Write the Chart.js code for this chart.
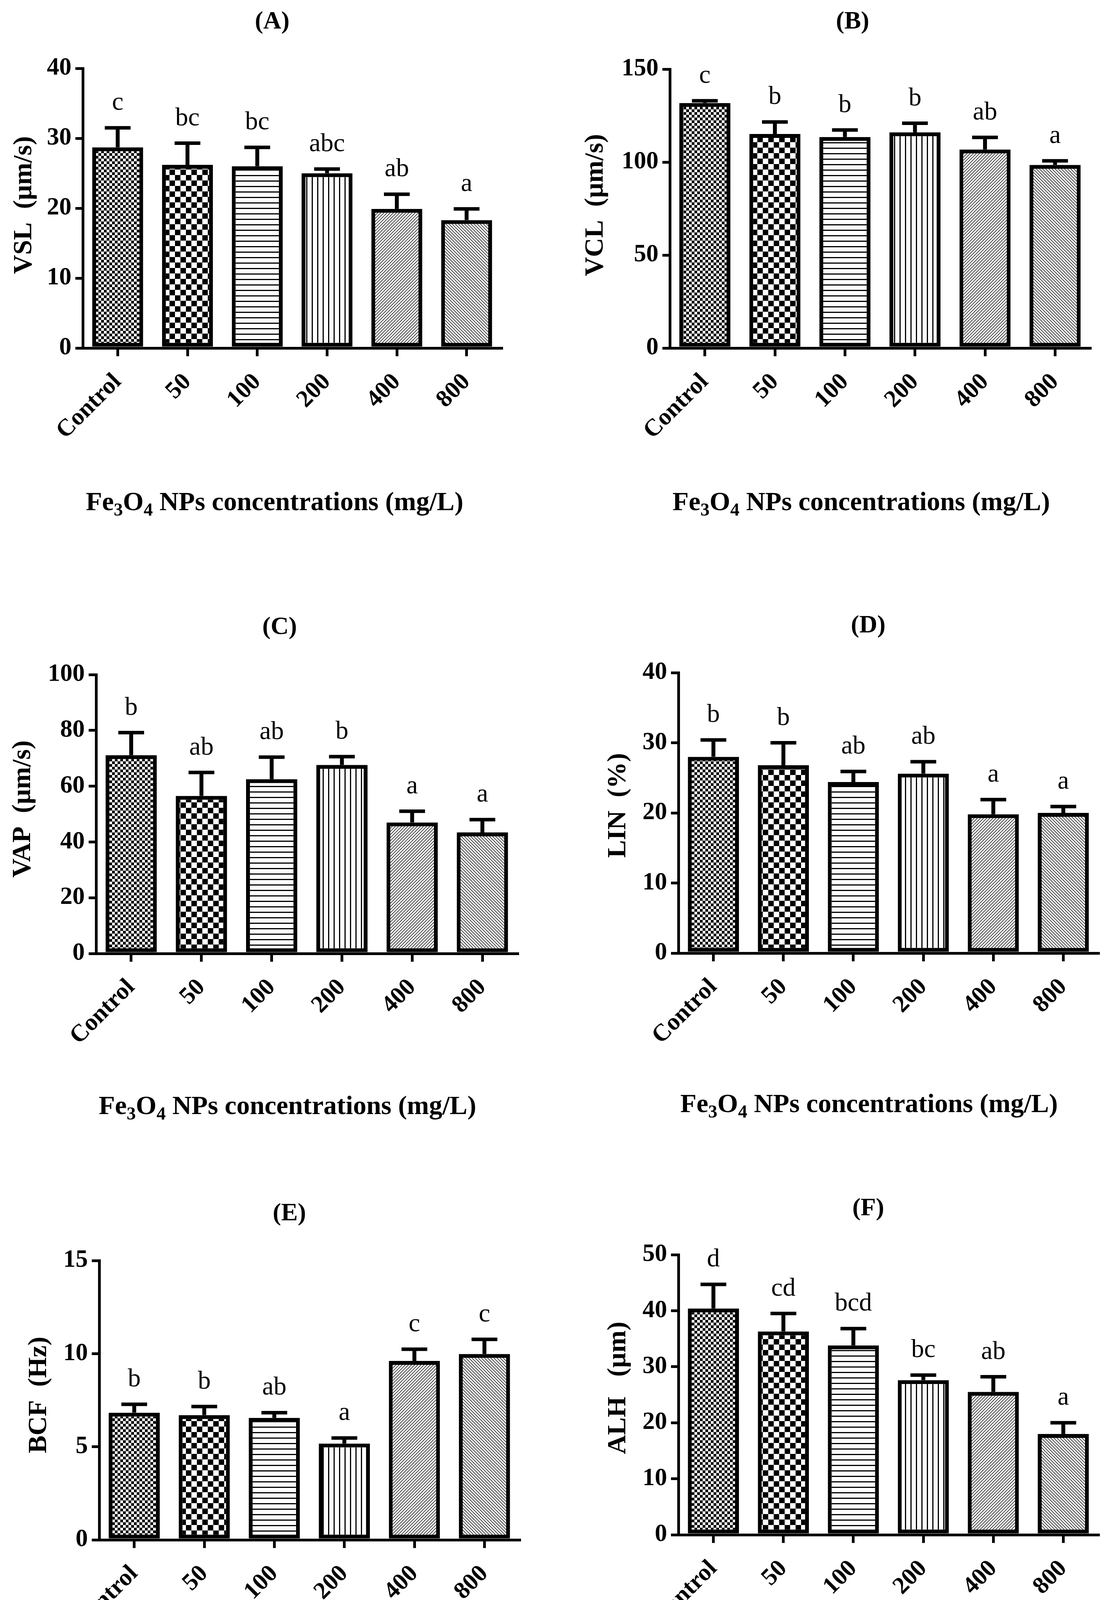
<!DOCTYPE html>
<html>
<head>
<meta charset="utf-8">
<script src="https://cdn.jsdelivr.net/npm/chart.js@4.4.1/dist/chart.umd.min.js"></script>
<style>
  html, body { margin: 0; padding: 0; background: #fff; }
  body { width: 2842px; height: 4391px; position: relative; overflow: hidden; }
  canvas { position: absolute; }
</style>
</head>
<body>
<script>
// groups on the x axis
const groups = ['Control', '50', '100', '200', '400', '800'];

// (A) VSL
const vslMean = [28.7, 26.2, 26.0, 25.0, 19.9, 18.3];
const vslErr = [2.8, 3.1, 2.7, 0.6, 2.1, 1.6];
const vslSig = ['c', 'bc', 'bc', 'abc', 'ab', 'a'];
const vslTicks = [0, 10, 20, 30, 40];

// (B) VCL
const vclMean = [131.8, 115.1, 113.5, 116.0, 106.8, 98.5];
const vclErr = [1.2, 6.5, 3.8, 4.9, 6.5, 2.2];
const vclSig = ['c', 'b', 'b', 'b', 'ab', 'a'];
const vclTicks = [0, 50, 100, 150];

// (C) VAP
const vapMean = [71.1, 56.5, 62.5, 67.6, 47.0, 43.4];
const vapErr = [8.1, 8.4, 7.9, 3.0, 4.0, 4.6];
const vapSig = ['b', 'ab', 'ab', 'b', 'a', 'a'];
const vapTicks = [0, 20, 40, 60, 80, 100];

// (D) LIN
const linMean = [28.0, 26.8, 24.4, 25.6, 19.8, 20.0];
const linErr = [2.4, 3.2, 1.5, 1.7, 2.1, 0.9];
const linSig = ['b', 'b', 'ab', 'ab', 'a', 'a'];
const linTicks = [0, 10, 20, 30, 40];

// (E) BCF
const bcfMean = [6.83, 6.70, 6.55, 5.17, 9.61, 9.98];
const bcfErr = [0.45, 0.46, 0.28, 0.30, 0.63, 0.79];
const bcfSig = ['b', 'b', 'ab', 'a', 'c', 'c'];
const bcfTicks = [0, 5, 10, 15];

// (F) ALH
const alhMean = [40.4, 36.3, 33.8, 27.6, 25.5, 18.0];
const alhErr = [4.3, 3.2, 3.0, 0.9, 2.7, 2.0];
const alhSig = ['d', 'cd', 'bcd', 'bc', 'ab', 'a'];
const alhTicks = [0, 10, 20, 30, 40, 50];

const SERIF = '"Liberation Serif", "Times New Roman", serif';

// hatch fills like the prism bars
function makePattern(kind) {
  const c = document.createElement('canvas');
  let s = 14;
  if (kind === 'coarse') s = 28;
  if (kind === 'up' || kind === 'down') s = 8;
  c.width = s; c.height = s;
  const g = c.getContext('2d');
  g.fillStyle = '#fff';
  g.fillRect(0, 0, s, s);
  g.fillStyle = '#000';
  g.strokeStyle = '#000';
  if (kind === 'fine') { g.fillRect(0, 0, 7, 7); g.fillRect(7, 7, 7, 7); }
  if (kind === 'coarse') { g.fillRect(0, 0, 14, 14); g.fillRect(14, 14, 14, 14); }
  if (kind === 'hline') g.fillRect(0, 0, s, 3);
  if (kind === 'vline') g.fillRect(0, 0, 3, s);
  if (kind === 'up' || kind === 'down') {
    g.lineWidth = 1.4;
    g.beginPath();
    if (kind === 'up') {
      g.moveTo(-2, s + 2); g.lineTo(s + 2, -2);
      g.moveTo(-2, 2); g.lineTo(2, -2);
      g.moveTo(s - 2, s + 2); g.lineTo(s + 2, s - 2);
    } else {
      g.moveTo(-2, -2); g.lineTo(s + 2, s + 2);
      g.moveTo(s - 2, -2); g.lineTo(s + 2, 2);
      g.moveTo(-2, s - 2); g.lineTo(2, s + 2);
    }
    g.stroke();
  }
  return g.createPattern(c, 'repeat');
}

const fills = ['fine', 'coarse', 'hline', 'vline', 'up', 'down'].map(makePattern);

const panels = [
  { tag: '(A)', yLabel: 'VSL  (\u00b5m/s)', mean: vslMean, err: vslErr, sig: vslSig, ticks: vslTicks,
    box: [0, 0, 1421, 1420], area: [212, 175, 1284, 891], title: [697, 56], yTitle: [62, 525], xTitle: [703, 1283] },
  { tag: '(B)', yLabel: 'VCL  (\u00b5m/s)', mean: vclMean, err: vclErr, sig: vclSig, ticks: vclTicks,
    box: [1421, 0, 1421, 1420], area: [1715, 177, 2791, 891], title: [2183, 56], yTitle: [1525, 525], xTitle: [2205, 1283] },
  { tag: '(C)', yLabel: 'VAP  (\u00b5m/s)', mean: vapMean, err: vapErr, sig: vapSig, ticks: vapTicks,
    box: [0, 1480, 1421, 1440], area: [246, 1727, 1325, 2441], title: [716, 1606], yTitle: [59, 2071], xTitle: [736, 2829] },
  { tag: '(D)', yLabel: 'LIN  (%)', mean: linMean, err: linErr, sig: linSig, ticks: linTicks,
    box: [1421, 1480, 1421, 1440], area: [1737, 1722, 2812, 2440], title: [2223, 1602], yTitle: [1583, 2062], xTitle: [2225, 2824] },
  { tag: '(E)', yLabel: 'BCF  (Hz)', mean: bcfMean, err: bcfErr, sig: bcfSig, ticks: bcfTicks,
    box: [0, 2980, 1421, 1411], area: [254, 3227, 1330, 3942], title: [741, 3107], yTitle: [100, 3571], xTitle: [743, 4331] },
  { tag: '(F)', yLabel: 'ALH   (\u00b5m)', mean: alhMean, err: alhErr, sig: alhSig, ticks: alhTicks,
    box: [1421, 2980, 1421, 1411], area: [1737, 3212, 2812, 3929], title: [2223, 3094], yTitle: [1583, 3553], xTitle: [2225, 4318] }
];

function drawXTitle(ctx, x, y) {
  const parts = [['Fe', 0], ['3', 1], ['O', 0], ['4', 1], [' NPs concentrations (mg/L)', 0]];
  const big = 'bold 68px ' + SERIF;
  const small = 'bold 47px ' + SERIF;
  let total = 0;
  parts.forEach(([t, s]) => { ctx.font = s ? small : big; total += ctx.measureText(t).width; });
  let cur = x - total / 2;
  ctx.textAlign = 'left';
  ctx.textBaseline = 'alphabetic';
  parts.forEach(([t, s]) => {
    ctx.font = s ? small : big;
    ctx.fillText(t, cur, s ? y + 14 : y);
    cur += ctx.measureText(t).width;
  });
}

// error bars, letters and the panel texts
function panelDecor(p) {
  const cx = p.box[0], cy = p.box[1];
  return {
    id: 'decor',
    afterDatasetsDraw(chart) {
      const ctx = chart.ctx;
      const ys = chart.scales.y;
      const bars = chart.getDatasetMeta(0).data;
      ctx.save();
      ctx.strokeStyle = '#000';
      ctx.fillStyle = '#000';
      bars.forEach((bar, i) => {
        const top = ys.getPixelForValue(p.mean[i]);
        const eTop = ys.getPixelForValue(p.mean[i] + p.err[i]);
        ctx.lineWidth = 10;
        ctx.beginPath();
        ctx.moveTo(bar.x, top);
        ctx.lineTo(bar.x, eTop);
        ctx.stroke();
        ctx.lineWidth = 9;
        ctx.beginPath();
        ctx.moveTo(bar.x - 33, eTop);
        ctx.lineTo(bar.x + 33, eTop);
        ctx.stroke();
        ctx.font = '66px ' + SERIF;
        ctx.textAlign = 'center';
        ctx.textBaseline = 'alphabetic';
        ctx.fillText(p.sig[i], bar.x, eTop - 46);
      });
      ctx.restore();
    },
    afterDraw(chart) {
      const ctx = chart.ctx;
      ctx.save();
      ctx.fillStyle = '#000';
      ctx.font = 'bold 64px ' + SERIF;
      ctx.textAlign = 'center';
      ctx.textBaseline = 'middle';
      ctx.fillText(p.tag, p.title[0] - cx, p.title[1] - cy);

      ctx.save();
      ctx.translate(p.yTitle[0] - cx, p.yTitle[1] - cy);
      ctx.rotate(-Math.PI / 2);
      ctx.font = 'bold 68px ' + SERIF;
      ctx.fillText(p.yLabel, 0, 0);
      ctx.restore();

      drawXTitle(ctx, p.xTitle[0] - cx, p.xTitle[1] - cy + 23);
      ctx.restore();
    }
  };
}

panels.forEach((p) => {
  const [cx, cy, cw, ch] = p.box;
  const [L, T, R, B] = p.area;
  const cv = document.createElement('canvas');
  cv.width = cw;
  cv.height = ch;
  cv.style.left = cx + 'px';
  cv.style.top = cy + 'px';
  document.body.appendChild(cv);

  new Chart(cv.getContext('2d'), {
    type: 'bar',
    data: {
      labels: groups,
      datasets: [{
        data: p.mean,
        backgroundColor: fills,
        borderColor: '#000',
        borderWidth: 10,
        borderSkipped: false,
        barPercentage: 0.73,
        categoryPercentage: 1
      }]
    },
    options: {
      responsive: false,
      animation: false,
      devicePixelRatio: 1,
      layout: { padding: { left: 0, top: T - cy, right: cx + cw - R, bottom: 0 } },
      plugins: {
        legend: { display: false },
        tooltip: { enabled: false },
        title: { display: false }
      },
      scales: {
        x: {
          offset: true,
          grid: { offset: false, drawOnChartArea: false, drawTicks: true, tickLength: 21, lineWidth: 7, tickWidth: 7, color: '#000' },
          border: { display: true, width: 7, color: '#000' },
          ticks: {
            autoSkip: false, maxRotation: 45, minRotation: 45, padding: 30, color: '#000',
            font: { family: SERIF, size: 62, weight: 'bold' }
          },
          afterFit: (s) => { s.height = cy + ch - B; }
        },
        y: {
          min: 0,
          max: p.ticks[p.ticks.length - 1],
          grid: { drawOnChartArea: false, drawTicks: true, tickLength: 19, lineWidth: 7, tickWidth: 7, color: '#000' },
          border: { display: true, width: 7, color: '#000' },
          ticks: {
            stepSize: p.ticks[1] - p.ticks[0], padding: 10, color: '#000',
            font: { family: SERIF, size: 63, weight: 'bold' }
          },
          afterFit: (s) => { s.width = L - cx; }
        }
      }
    },
    plugins: [panelDecor(p)]
  });
});
</script>
</body>
</html>
